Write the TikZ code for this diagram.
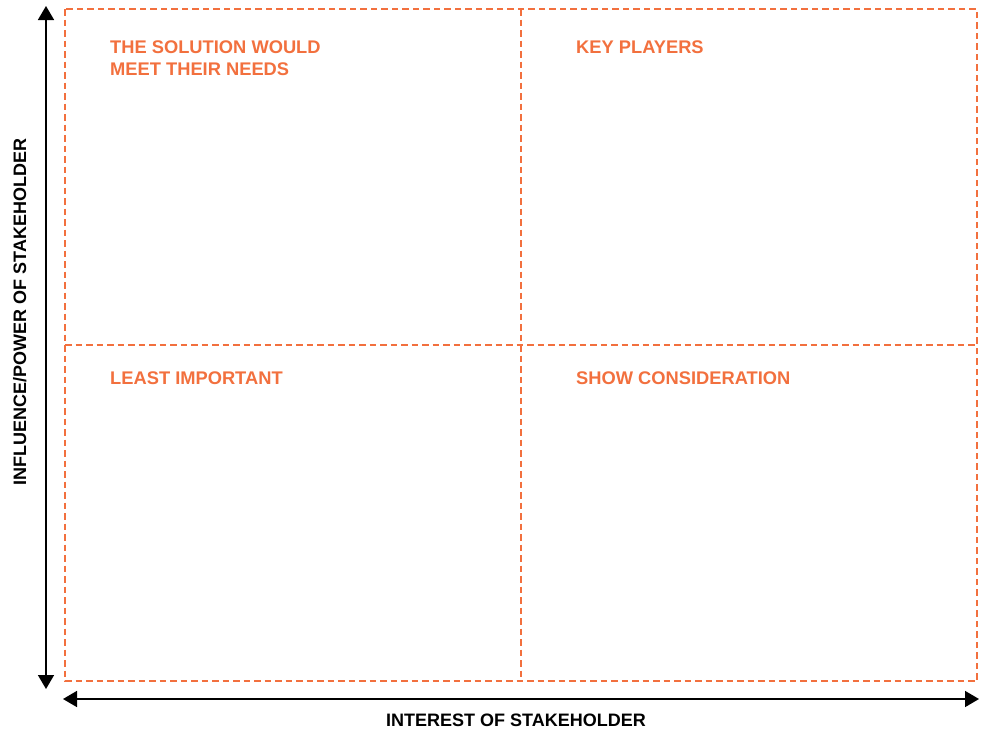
\documentclass[tikz,border=0pt]{standalone}
\usepackage{fontspec}
\setmainfont{Liberation Sans}
\usetikzlibrary{arrows.meta}
\definecolor{GridOrange}{RGB}{242, 112, 62}
\colorlet{LabelOrange}{GridOrange}
\tikzset{
    grid line/.style = {
        draw         = GridOrange,
        line width   = 2.4pt,
        dash pattern = on 6.5pt off 4pt,
    },
    axis line/.style = {
        draw       = black,
        line width = 1.6pt,
        -{Triangle[width = 16pt, length = 14pt]},
    },
}

\begin{document}
\begin{tikzpicture}[x = 1pt, y = -1pt]
                    \useasboundingbox (0, 0) rectangle (987, 731);

                    \coordinate (TL) at ( 65,   9);
                    \coordinate (BR) at (977, 681);
                    \coordinate (MT) at (521,   9);
                    \coordinate (MB) at (521, 681);
                    \coordinate (ML) at ( 65, 345);
                    \coordinate (MR) at (977, 345);

                    \draw[grid line]
                        (TL) rectangle (BR)
                        (MT) -- (MB)
                        (ML) -- (MR)
                    ;

                    \coordinate (YMid) at ( 46, 345);
                    \coordinate (YTop) at ( 46,   6);
                    \coordinate (YBot) at ( 46, 689);
                    \coordinate (XMid) at (521, 699);
                    \coordinate (XLft) at ( 63, 699);
                    \coordinate (XRgt) at (979, 699);

                    \draw[axis line] (YMid) -- (YTop);
                    \draw[axis line] (YMid) -- (YBot);
                    \draw[axis line] (XMid) -- (XLft);
                    \draw[axis line] (XMid) -- (XRgt);

                    \begin{scope}[
                        every node/.style = {
                            inner sep = 0pt,
                            anchor    = north west,
                            align     = left,
                            text      = LabelOrange,
                            font      = \fontsize{18.3}{22}\selectfont\bfseries,
                        }
                    ]
                        \node (Needs)    at (110,  41) {THE SOLUTION WOULD\\MEET THEIR NEEDS};
                        \node (Players)  at (576,  41) {KEY PLAYERS};
                        \node (Least)    at (110, 372) {LEAST IMPORTANT};
                        \node (Consider) at (576, 372) {SHOW CONSIDERATION};
                    \end{scope}

                    \begin{scope}[
                        every node/.style = {
                            inner sep = 0pt,
                            anchor    = base,
                            text      = black,
                            font      = \fontsize{18}{22}\selectfont\bfseries,
                        }
                    ]
                        \node (Interest)  at (516, 726) {INTEREST OF STAKEHOLDER};
                        \node (Influence) at ( 26, 312) [rotate = 90] {INFLUENCE/POWER OF STAKEHOLDER};
                    \end{scope}
                \end{tikzpicture}
\end{document}
